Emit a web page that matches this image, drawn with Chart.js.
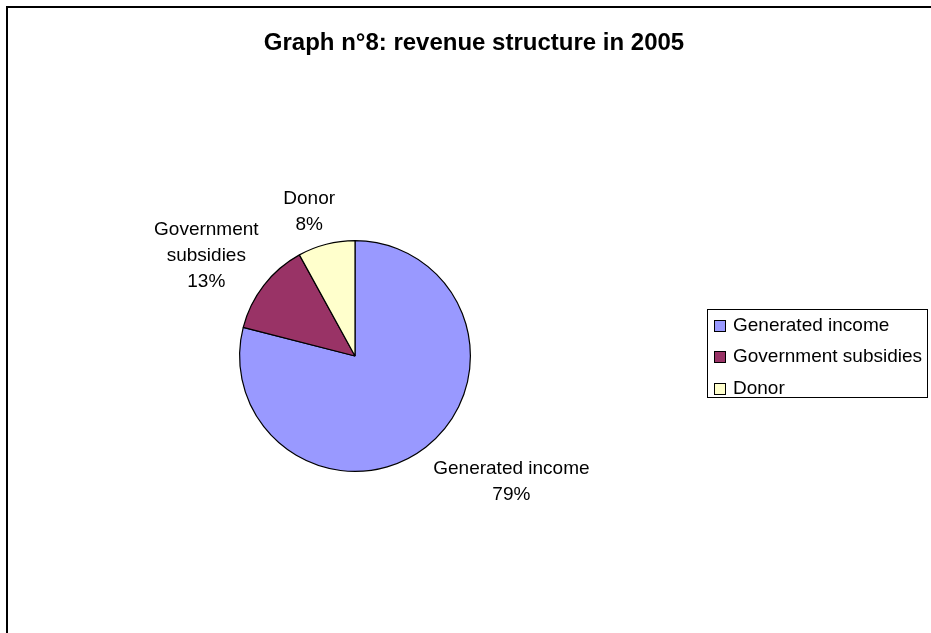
<!DOCTYPE html>
<html>
<head>
<meta charset="utf-8">
<title>Graph n°8: revenue structure in 2005</title>
<script src="https://cdn.jsdelivr.net/npm/chart.js@4.4.0/dist/chart.umd.min.js"></script>
<style>
  html, body { margin: 0; padding: 0; background: #ffffff; }
  #wrap { width: 931px; height: 633px; position: relative; }
</style>
</head>
<body>
<div id="wrap"><canvas id="pie" width="931" height="633"></canvas></div>
<script>
// Revenue structure, 2005 (share of total, %)
const titleText = 'Graph n°8: revenue structure in 2005';
const categories = ['Generated income', 'Government subsidies', 'Donor'];
const shares = [79, 13, 8];
const labelLines = [['Generated income'], ['Government', 'subsidies'], ['Donor']];
const sliceColors = ['#9999FF', '#993366', '#FFFFCC'];

const FONT = '"Liberation Sans", Arial, sans-serif';

// Page background, chart frame and title
const framePlugin = {
  id: 'frame',
  beforeDraw(chart) {
    const ctx = chart.ctx;
    ctx.save();
    ctx.fillStyle = '#ffffff';
    ctx.fillRect(0, 0, chart.width, chart.height);
    ctx.fillStyle = '#000000';
    ctx.fillRect(6, 6, chart.width, 2);
    ctx.fillRect(6, 6, 2, chart.height);
    ctx.font = 'bold 24px ' + FONT;
    ctx.textAlign = 'center';
    ctx.textBaseline = 'middle';
    ctx.fillText(titleText, 474, 43);
    ctx.restore();
  }
};

// Category name + percentage outside each slice, placed along its mid-angle
const sliceLabelPlugin = {
  id: 'sliceLabels',
  afterDatasetsDraw(chart, args, opts) {
    const ctx = chart.ctx;
    const meta = chart.getDatasetMeta(0);
    const total = shares.reduce((a, b) => a + b, 0);
    const lineH = 26, capH = 14, gap = 18;
    const nudge = opts.nudge || [];
    ctx.save();
    ctx.font = '19px ' + FONT;
    ctx.fillStyle = '#000000';
    ctx.textAlign = 'center';
    ctx.textBaseline = 'middle';
    meta.data.forEach((arc, i) => {
      const p = arc.getProps(['x', 'y', 'startAngle', 'endAngle', 'outerRadius'], true);
      const mid = (p.startAngle + p.endAngle) / 2;
      const dx = Math.cos(mid), dy = Math.sin(mid);
      const lines = labelLines[i].concat([Math.round(shares[i] / total * 100) + '%']);
      const w = Math.max(...lines.map(t => ctx.measureText(t).width));
      const h = (lines.length - 1) * lineH + capH;
      const ax = p.x + dx * (p.outerRadius + gap);
      const ay = p.y + dy * (p.outerRadius + gap);
      const s = 1 / Math.max(Math.abs(dx), Math.abs(dy));
      const n = nudge[i] || [0, 0];
      const cx = ax + dx * s * w / 2 + n[0];
      const cy = ay + dy * s * h / 2 + n[1];
      lines.forEach((t, k) => {
        ctx.fillText(t, cx, cy + (k - (lines.length - 1) / 2) * lineH);
      });
    });
    ctx.restore();
  }
};

// Boxed legend on the right
const legendPlugin = {
  id: 'boxLegend',
  afterDraw(chart) {
    const ctx = chart.ctx;
    const ds = chart.data.datasets[0];
    const left = 707, top = 309, right = 927, bottom = 397;
    const rowH = 31.5, firstRow = 325.5;
    ctx.save();
    ctx.strokeStyle = '#000000';
    ctx.lineWidth = 1;
    ctx.strokeRect(left + 0.5, top + 0.5, right - left, bottom - top);
    ctx.font = '19px ' + FONT;
    ctx.textAlign = 'left';
    ctx.textBaseline = 'middle';
    chart.data.labels.forEach((lab, i) => {
      const y = firstRow + i * rowH;
      ctx.fillStyle = ds.backgroundColor[i];
      ctx.fillRect(714, Math.round(y - 6), 12, 12);
      ctx.strokeRect(714.5, Math.round(y - 6) + 0.5, 11, 11);
      ctx.fillStyle = '#000000';
      ctx.fillText(lab, 733, y);
    });
    ctx.restore();
  }
};

new Chart(document.getElementById('pie'), {
  type: 'pie',
  data: {
    labels: categories,
    datasets: [{
      data: shares,
      backgroundColor: sliceColors,
      borderColor: '#000000',
      borderWidth: 1.2,
      hoverOffset: 0
    }]
  },
  options: {
    responsive: false,
    animation: false,
    events: [],
    layout: { padding: { left: 239, right: 460, top: 240, bottom: 161 } },
    plugins: {
      legend: { display: false },
      title: { display: false },
      tooltip: { enabled: false },
      sliceLabels: { nudge: [[14, 0], [9, 7], [-6, 5]] }
    }
  },
  plugins: [framePlugin, sliceLabelPlugin, legendPlugin]
});
</script>
</body>
</html>
